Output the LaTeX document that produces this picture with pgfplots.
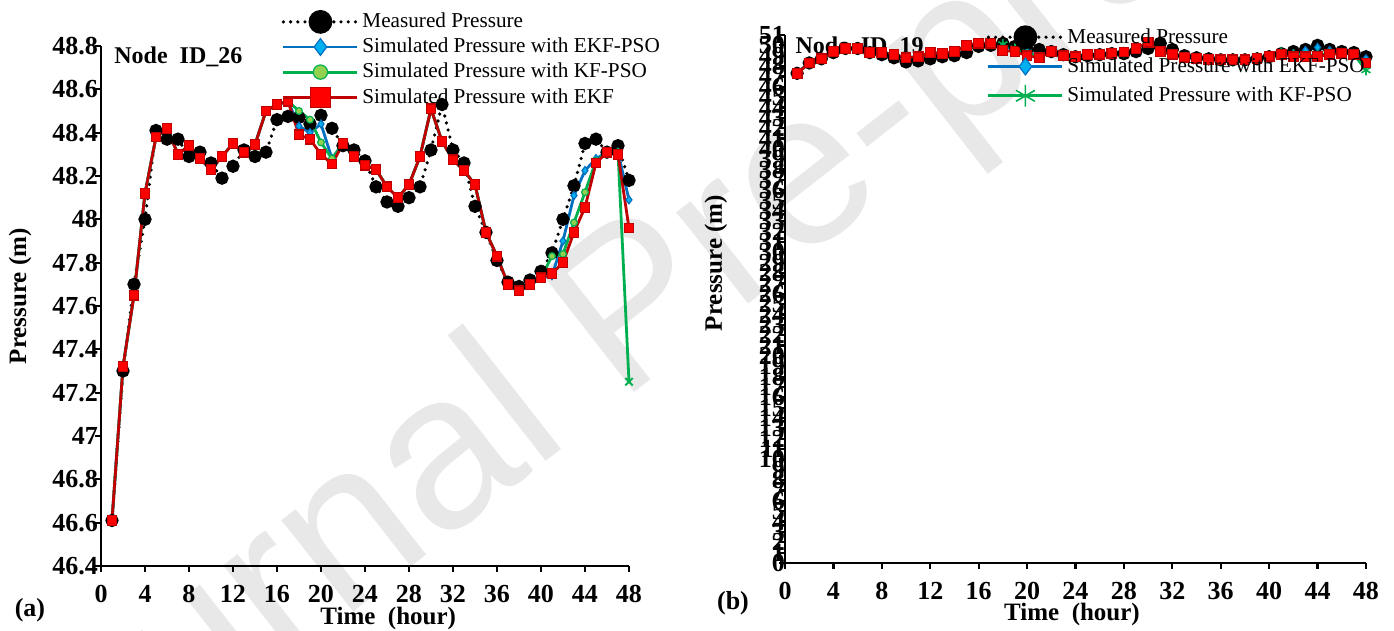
\documentclass[border=0pt]{standalone}
\usepackage{fontspec}
\setmainfont{Liberation Serif}
\newfontfamily\wmfont{Liberation Sans}
\usepackage{pgfplots}
\usepackage{pgfplotstable}
\pgfplotsset{compat=1.18}

\definecolor{ekfpsoline}{RGB}{0,112,192}
\definecolor{ekfpsofill}{RGB}{0,176,240}
\definecolor{kfpsoline}{RGB}{0,176,80}
\definecolor{kfpsofill}{RGB}{146,208,80}
\definecolor{ekfline}{RGB}{192,0,0}
\definecolor{ekffill}{RGB}{255,0,0}
\definecolor{wmgray}{RGB}{232,232,232}

% Node ID_26: hour, measured, EKF-PSO, KF-PSO, EKF
\pgfplotstableread{
h  meas    ekfpso  kfpso   ekf
1  46.61   46.61   46.61   46.61
2  47.30   47.32   47.32   47.32
3  47.70   47.65   47.65   47.65
4  48.00   48.12   48.12   48.12
5  48.41   48.38   48.38   48.38
6  48.37   48.42   48.42   48.42
7  48.37   48.30   48.30   48.30
8  48.29   48.34   48.34   48.34
9  48.31   48.28   48.28   48.28
10 48.26   48.23   48.23   48.23
11 48.19   48.29   48.29   48.29
12 48.245  48.35   48.35   48.35
13 48.32   48.31   48.31   48.31
14 48.29   48.345  48.345  48.345
15 48.31   48.50   48.50   48.50
16 48.46   48.53   48.53   48.53
17 48.475  48.545  48.545  48.545
18 48.47   48.43   48.50   48.39
19 48.44   48.40   48.46   48.37
20 48.48   48.44   48.355  48.30
21 48.42   48.28   48.28   48.255
22 48.34   48.35   48.35   48.35
23 48.32   48.29   48.29   48.29
24 48.27   48.25   48.25   48.25
25 48.15   48.23   48.23   48.23
26 48.08   48.15   48.15   48.15
27 48.06   48.10   48.10   48.10
28 48.10   48.16   48.16   48.16
29 48.15   48.29   48.29   48.29
30 48.32   48.51   48.51   48.51
31 48.53   48.36   48.36   48.36
32 48.32   48.275  48.275  48.275
33 48.26   48.225  48.225  48.225
34 48.06   48.16   48.16   48.16
35 47.94   47.94   47.94   47.94
36 47.81   47.83   47.83   47.83
37 47.71   47.70   47.70   47.70
38 47.69   47.67   47.67   47.67
39 47.72   47.70   47.70   47.70
40 47.76   47.73   47.73   47.73
41 47.845  47.74   47.83   47.75
42 48.00   47.90   47.84   47.80
43 48.155  48.11   47.985  47.94
44 48.35   48.225  48.125  48.055
45 48.37   48.28   48.27   48.26
46 48.31   48.31   48.31   48.31
47 48.34   48.31   48.31   48.30
48 48.18   48.09   47.25   47.96
}\nodeA

% Node ID_19: hour, measured, EKF-PSO, KF-PSO, EKF
\pgfplotstableread{
h  meas   ekfpso  kfpso  ekf
1  47.3   47.3    47.3   47.3
2  48.3   48.3    48.3   48.3
3  48.7   48.7    48.7   48.7
4  49.3   49.4    49.4   49.4
5  49.7   49.7    49.7   49.7
6  49.7   49.7    49.7   49.7
7  49.3   49.3    49.3   49.3
8  49.1   49.3    49.3   49.3
9  48.8   49.1    49.1   49.1
10 48.4   48.8    48.8   48.8
11 48.5   48.9    48.9   48.9
12 48.7   49.3    49.3   49.3
13 48.9   49.2    49.2   49.2
14 49.0   49.4    49.4   49.4
15 49.3   50.0    50.0   50.0
16 49.9   50.2    50.2   50.2
17 50.0   50.2    50.2   50.2
18 50.2   49.9    50.1   49.5
19 49.9   49.6    49.7   49.4
20 49.6   49.4    49.3   49.0
21 49.6   48.8    48.8   48.8
22 49.4   49.4    49.4   49.4
23 49.1   49.0    49.0   49.0
24 48.9   48.9    48.9   48.9
25 49.0   49.1    49.1   49.1
26 49.1   49.15   49.15  49.15
27 49.2   49.25   49.25  49.25
28 49.2   49.35   49.35  49.35
29 49.4   49.7    49.7   49.7
30 49.7   50.3    50.3   50.3
31 50.2   49.4    49.4   49.4
32 49.6   49.15   49.15  49.15
33 49.0   48.85   48.85  48.85
34 48.8   48.75   48.75  48.75
35 48.7   48.65   48.65  48.65
36 48.6   48.6    48.6   48.6
37 48.6   48.6    48.6   48.6
38 48.6   48.6    48.6   48.6
39 48.7   48.75   48.75  48.75
40 48.9   48.95   48.95  48.95
41 49.2   49.1    49.3   49.1
42 49.4   49.2    49.1   48.9
43 49.6   49.5    49.0   48.9
44 50.0   49.8    49.1   48.95
45 49.6   49.5    49.2   49.1
46 49.4   49.3    49.25  49.25
47 49.3   49.2    49.15  49.15
48 48.9   48.7    47.6   48.3
}\nodeB

\newcommand\lblfont{\fontsize{12.5}{13}\selectfont\bfseries}

\pgfplotsset{
  panel/.style={
    scale only axis,
    axis x line*=bottom,
    axis y line*=left,
    axis line style={line width=1.1pt,-},
    every tick/.style={black,line width=1.1pt},
    tick align=outside,
    major tick length=3pt,
    xmin=0, xmax=48,
    xtick={0,4,...,48},
    /pgf/number format/assume math mode=true,
    tick label style={font=\fontsize{13}{13}\selectfont\bfseries},
    xticklabel style={yshift=-3pt},
    clip=false,
    legend cell align=left,
    legend image code/.code={
      \draw[##1] (0pt,0pt) -- (37pt,0pt);
      \draw[##1,only marks,every mark/.append style={scale=2.1}]
        plot coordinates {(18.5pt,0pt)};
    },
  },
  measured/.style={black,line width=1.8pt,line cap=round,
    dash pattern=on 0pt off 3.6pt,
    mark=*,mark size=2.4pt,mark options={solid,fill=black}},
  ekfpso/.style={ekfpsoline,line width=1.4pt,
    mark=diamond*,mark size=2pt,
    mark options={solid,fill=ekfpsofill,draw=ekfpsoline,line width=0.6pt}},
  kfpso/.style={kfpsoline,line width=1.4pt,
    mark=*,mark size=1.7pt,
    mark options={solid,fill=kfpsofill,draw=kfpsoline,line width=0.6pt}},
  ekf/.style={ekfline,line width=1.4pt,
    mark=square*,mark size=2.4pt,
    mark options={solid,fill=ekffill,draw=ekfline,line width=0.6pt}},
}

\begin{document}
\begin{tikzpicture}
\useasboundingbox (0pt,0pt) rectangle (697pt,315.5pt);

% background stamp
\node[rotate=38,text=wmgray,font=\wmfont\fontsize{110}{110}\selectfont]
  at (319.5pt,157pt) {Journal Pre-proof};

% ---------------- (a) Node ID_26 ----------------
\begin{axis}[panel,
  at={(50.5pt,32.5pt)}, anchor=south west,
  width=264pt, height=260pt,
  ymin=46.4, ymax=48.8,
  ytick={46.4,46.6,46.8,47,47.2,47.4,47.6,47.8,48,48.2,48.4,48.6,48.8},
  yticklabel style={xshift=5pt,/pgf/number format/.cd,fixed,precision=1},
  xlabel={Time\ \ (hour)},
  ylabel={Pressure (m)},
  every axis x label/.style={font=\lblfont,at={(axis description cs:0.544,-0.1)},anchor=center},
  every axis y label/.style={font=\lblfont,at={(axis description cs:-0.153,0.519)},rotate=90,anchor=center},
  legend style={draw=none,fill=none,at={(rel axis cs:0.33,1.078)},anchor=north west,
    font=\fontsize{10.6}{12}\selectfont,row sep=0.5pt,
    nodes={inner sep=1.6pt}},
]
\addplot[measured] table[x=h,y=meas] {\nodeA};
\addlegendentry{Measured Pressure}
\addplot[ekfpso] table[x=h,y=ekfpso] {\nodeA};
\addlegendentry{Simulated Pressure with EKF-PSO}
\addplot[kfpso,mark indices={1,...,47}] table[x=h,y=kfpso] {\nodeA};
\addlegendentry{Simulated Pressure with KF-PSO}
\addplot[ekf] table[x=h,y=ekf] {\nodeA};
\addlegendentry{Simulated Pressure with EKF}
\addplot[forget plot,only marks,kfpsoline,mark=x,mark size=2.6pt,line width=1pt]
  table[x=h,y=kfpso,skip coords between index={0}{47}] {\nodeA};
\node[anchor=west,font=\fontsize{12}{12}\selectfont\bfseries]
  at (rel axis cs:0.012,0.979) {Node\ \ ID\_26};
\end{axis}

% ---------------- (b) Node ID_19 ----------------
\begin{axis}[panel,
  at={(392.5pt,34pt)}, anchor=south west,
  width=290.5pt, height=264pt,
  ymin=0, ymax=51,
  ytick={0,1,...,51},
  yticklabel style={xshift=6.5pt},
  xlabel={Time\ \ (hour)},
  ylabel={Pressure (m)},
  every axis x label/.style={font=\lblfont,at={(axis description cs:0.494,-0.097)},anchor=center},
  every axis y label/.style={font=\lblfont,at={(axis description cs:-0.119,0.568)},rotate=90,anchor=center},
  legend style={draw=none,fill=none,at={(rel axis cs:0.336,1.027)},anchor=north west,
    font=\fontsize{10.6}{12}\selectfont,row sep=2.6pt,
    nodes={inner sep=1.6pt}},
]
\addplot[measured] table[x=h,y=meas] {\nodeB};
\addlegendentry{Measured Pressure}
\addplot[ekfpso] table[x=h,y=ekfpso] {\nodeB};
\addlegendentry{Simulated Pressure with EKF-PSO}
\addplot[kfpsoline,line width=1.4pt,mark=asterisk,mark size=2.6pt,
  mark options={solid,line width=0.8pt}] table[x=h,y=kfpso] {\nodeB};
\addlegendentry{Simulated Pressure with KF-PSO}
\addplot[ekf,forget plot] table[x=h,y=ekf] {\nodeB};
\node[anchor=west,font=\fontsize{12}{12}\selectfont\bfseries]
  at (rel axis cs:0.006,0.977) {Node\ \ ID\_19};
\end{axis}

\node[font=\fontsize{13}{13}\selectfont\bfseries] at (15pt,10.5pt) {(a)};
\node[font=\fontsize{13}{13}\selectfont\bfseries] at (366.5pt,14pt) {(b)};
\end{tikzpicture}
\end{document}
